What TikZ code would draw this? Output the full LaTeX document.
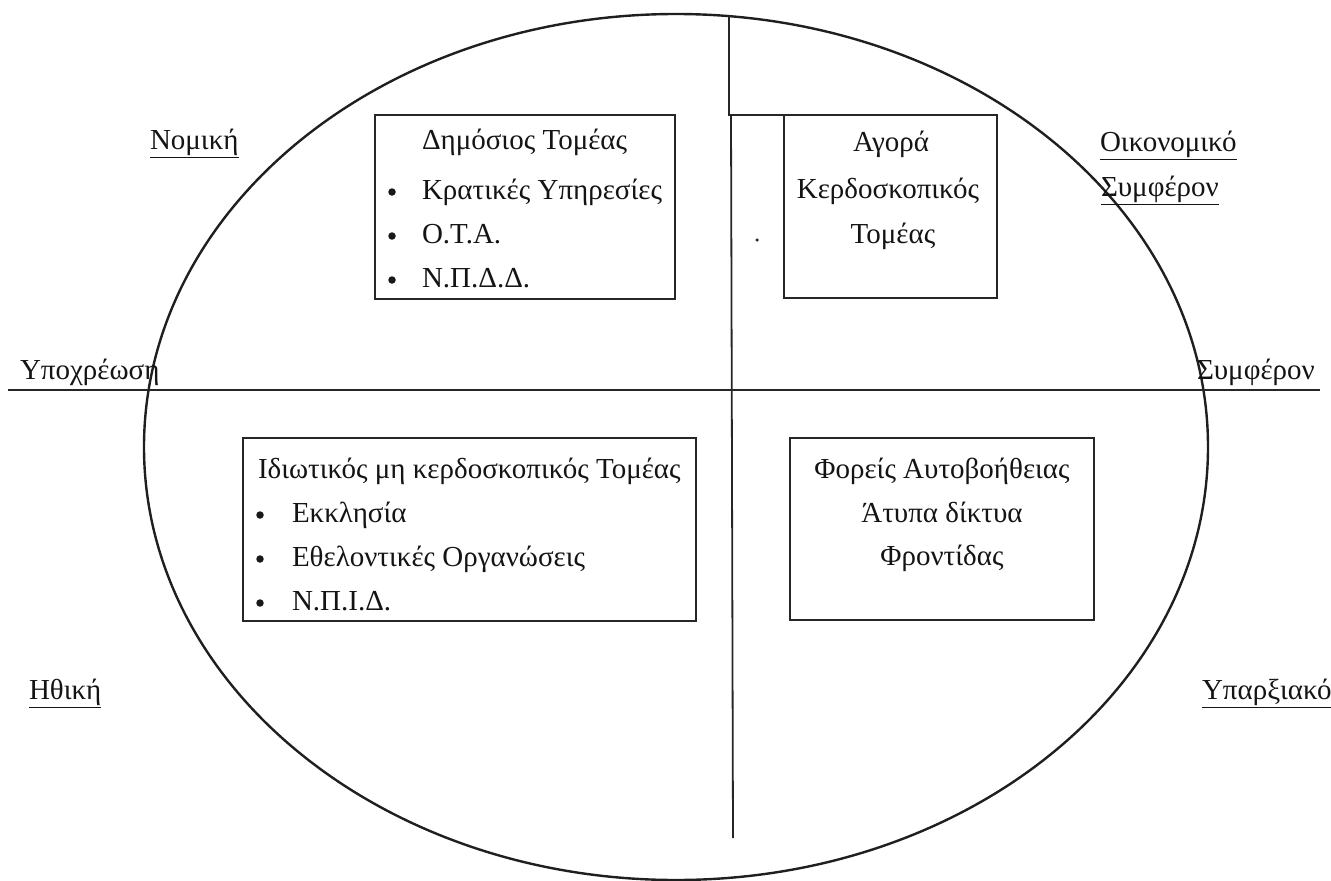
\documentclass[tikz,border=0pt]{standalone}
\usepackage{fontspec}
\setmainfont{Liberation Serif}
\usetikzlibrary{shapes.geometric}
\begin{document}
\begin{tikzpicture}[x=1pt,y=-1pt,
  every node/.style={inner sep=0pt, outer sep=0pt},
  txt/.style={font=\fontsize{29}{34}\selectfont, text=black!92, yshift=-4pt},
  box/.style={draw=black!85, line width=1.8pt},
  ln/.style={line width=1.8pt, draw=black!85},
  bul/.style={circle, fill=black!90, minimum size=7.5pt}]
\useasboundingbox (0,0) rectangle (1331,881);
% oval
\node[ellipse, draw=black!88, line width=2.4pt, minimum width=1064pt, minimum height=866pt] (oval) at (676,447) {};
% axes
\coordinate (hl) at (8,390);
\coordinate (hr) at (1320,390);
\draw[ln] (hl) -- (hr);
\coordinate (vt) at (729,16);
\coordinate (vj) at (729,115);
\coordinate (vs) at (731,115);
\coordinate (vb) at (733,838);
% boxes
\node[box, minimum width=300pt, minimum height=184pt] (b1) at (525,207) {};
\node[box, minimum width=213pt, minimum height=183pt] (b2) at (890.5,206.5) {};
\node[box, minimum width=453pt, minimum height=183pt] (b3) at (469.5,529.5) {};
\node[box, minimum width=304pt, minimum height=182pt] (b4) at (942,529) {};
\draw[ln] (vt) -- (vj) -- (b2.north west);
\draw[ln] (vs) -- (vb);
% box 1
\node[txt, anchor=mid west] (t11) at (422,143) {Δημόσιος Τομέας};
\node[bul] (p12) at (392,192) {};
\node[txt, anchor=mid west] (t12) at (422,193) {Κρατικές Υπηρεσίες};
\node[bul] (p13) at (392,236) {};
\node[txt, anchor=mid west] (t13) at (422,237) {Ο.Τ.Α.};
\node[bul] (p14) at (392,280) {};
\node[txt, anchor=mid west] (t14) at (422,281) {Ν.Π.Δ.Δ.};
% box 2
\node[txt, anchor=mid] (t21) at (891,145) {Αγορά};
\node[txt, anchor=mid] (t22) at (888,192) {Κερδοσκοπικός};
\node[txt, anchor=mid] (t23) at (893,237) {Τομέας};
\node[circle, fill=black!85, minimum size=3.5pt] (dot) at (757,240) {};
% box 3
\node[txt, anchor=mid west] (t31) at (258,472) {Ιδιωτικός μη κερδοσκοπικός Τομέας};
\node[bul] (p32) at (260,515) {};
\node[txt, anchor=mid west] (t32) at (292,516) {Εκκλησία};
\node[bul] (p33) at (260,559) {};
\node[txt, anchor=mid west] (t33) at (292,560) {Εθελοντικές Οργανώσεις};
\node[bul] (p34) at (260,603) {};
\node[txt, anchor=mid west] (t34) at (292,604) {Ν.Π.Ι.Δ.};
% box 4
\node[txt, anchor=mid] (t41) at (942,472) {Φορείς Αυτοβοήθειας};
\node[txt, anchor=mid] (t42) at (942,516) {Άτυπα δίκτυα};
\node[txt, anchor=mid] (t43) at (942,559) {Φροντίδας};
% outer labels
\node[txt, anchor=mid west] (nom) at (150,143) {\underline{Νομική}};
\node[txt, anchor=mid west] (oik) at (1100,145) {\underline{Οικονομικό}};
\node[txt, anchor=mid west] (sym1) at (1101,190) {\underline{Συμφέρον}};
\node[txt, anchor=mid west] (ypo) at (20,373) {Υποχρέωση};
\node[txt, anchor=mid west] (sym2) at (1197,373) {Συμφέρον};
\node[txt, anchor=mid west] (ith) at (29,693) {\underline{Ηθική}};
\node[txt, anchor=mid west] (ypa) at (1202,693) {\underline{Υπαρξιακό}};
\end{tikzpicture}
\end{document}
